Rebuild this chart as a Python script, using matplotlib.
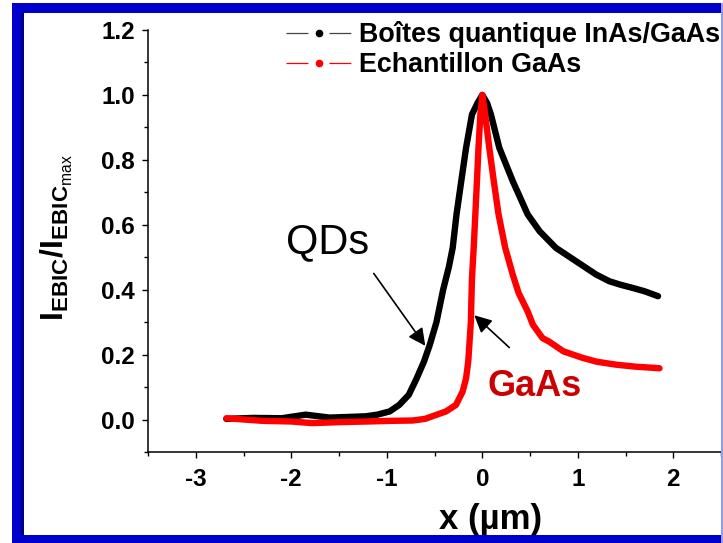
import matplotlib
matplotlib.use("Agg")
import matplotlib.pyplot as plt
from matplotlib.lines import Line2D
from matplotlib.patches import Rectangle
from matplotlib.ticker import MultipleLocator

plt.rcParams['font.family'] = ['Liberation Sans', 'DejaVu Sans']
plt.rcParams['mathtext.fontset'] = 'custom'
plt.rcParams['mathtext.bf'] = 'Liberation Sans:bold'
plt.rcParams['mathtext.rm'] = 'Liberation Sans'
plt.rcParams['lines.scale_dashes'] = False
plt.rcParams['axes.unicode_minus'] = False

# --- données ---
qd_x = [-2.68, -2.4, -2.1, -1.85, -1.6, -1.4, -1.22, -1.1, -0.97, -0.87, -0.77,
        -0.69, -0.61, -0.55, -0.48, -0.41, -0.35, -0.31, -0.27, -0.22, -0.17,
        -0.108, -0.05, 0.0, 0.05, 0.09, 0.178, 0.318, 0.475, 0.60, 0.77, 0.98,
        1.19, 1.33, 1.45, 1.58, 1.7, 1.84]
qd_y = [0.002, 0.005, 0.004, 0.015, 0.006, 0.008, 0.010, 0.015, 0.025, 0.045, 0.076,
        0.125, 0.179, 0.23, 0.30, 0.40, 0.47, 0.529, 0.632, 0.735, 0.837,
        0.94, 0.975, 1.0, 0.975, 0.94, 0.837, 0.735, 0.632, 0.58, 0.529, 0.488,
        0.447, 0.426, 0.415, 0.405, 0.395, 0.38]

gaas_x = [-2.68, -2.3, -2.0, -1.78, -1.5, -1.2, -0.95, -0.73, -0.60, -0.485, -0.38,
          -0.276, -0.206, -0.17, -0.147, -0.12, -0.108, -0.09, -0.073, -0.056,
          -0.04, -0.02, 0.0, 0.03, 0.073, 0.12, 0.17, 0.24, 0.318, 0.38, 0.475,
          0.53, 0.63, 0.70, 0.85, 1.05, 1.2, 1.40, 1.6, 1.855]
gaas_y = [0.004, -0.004, -0.006, -0.011, -0.008, -0.006, -0.004, -0.003, 0.002, 0.014, 0.025,
          0.045, 0.086, 0.127, 0.179, 0.30, 0.436, 0.529, 0.632, 0.735,
          0.837, 0.94, 1.0, 0.94, 0.837, 0.735, 0.632, 0.529, 0.447, 0.39, 0.333,
          0.292, 0.251, 0.24, 0.21, 0.19, 0.178, 0.169, 0.163, 0.158]

labels = ["Boîtes quantique InAs/GaAs", "Echantillon GaAs"]
couleurs = ['black', '#ff0000']

W, H = 723, 543
fig = plt.figure(figsize=(W / 100, H / 100), dpi=100)
ax = fig.add_axes([148 / W, (H - 452) / H, (W - 148) / W, (452 - 30) / H])

ax.plot(qd_x, qd_y, color=couleurs[0], lw=4.6, solid_capstyle='round', solid_joinstyle='round')
ax.plot(gaas_x, gaas_y, color=couleurs[1], lw=4.6, solid_capstyle='round', solid_joinstyle='round')

ax.set_xlim(-3.5, 2.52)
ax.set_ylim(-0.1, 1.2)
ax.spines['top'].set_visible(False)
ax.spines['right'].set_visible(False)
for s in ['left', 'bottom']:
    ax.spines[s].set_linewidth(1.1)

ax.xaxis.set_major_locator(MultipleLocator(1))
ax.xaxis.set_minor_locator(MultipleLocator(0.5))
ax.yaxis.set_minor_locator(MultipleLocator(0.1))
ax.set_yticks([0.0, 0.2, 0.4, 0.6, 0.8, 1.0, 1.2])
ax.set_yticklabels(['0.0', '0.2', '0.4', '0.6', '0.8', '1.0', '1.2'])
ax.tick_params(which='major', direction='out', length=4.5, width=1.0, labelsize=17.5)
ax.tick_params(which='minor', direction='out', length=3, width=1.0)
ax.tick_params(axis='y', which='major', pad=5)
ax.tick_params(axis='x', which='major', pad=7)
for lab in ax.get_xticklabels() + ax.get_yticklabels():
    lab.set_fontweight('bold')

# étiquettes des axes
fig.text(57 / W, 1 - 238 / H,
         r'$\mathbf{I}_{\mathbf{EBIC}}\mathbf{/I}_{\mathbf{EBIC}_{\mathrm{max}}}$',
         rotation=90, ha='center', va='center', fontsize=23)
fig.text(491 / W, 1 - 519 / H, 'x (µm)', ha='center', va='center',
         fontsize=25, fontweight='bold')

# annotations
ax.text(-2.05, 0.512, 'QDs', fontsize=30, va='baseline', ha='left')
ax.annotate('', xy=(-0.58, 0.22), xytext=(-1.153, 0.457),
            arrowprops=dict(arrowstyle='-|>', color='black', lw=1.2, mutation_scale=26))
ax.text(0.05, 0.071, 'GaAs', fontsize=26, fontweight='bold', color='#cc0000',
        va='baseline', ha='left')
ax.annotate('', xy=(-0.105, 0.327), xytext=(0.304, 0.216),
            arrowprops=dict(arrowstyle='-|>', color='black', lw=1.2, mutation_scale=26))

# légende
handles = [Line2D([], [], color=c, lw=0.9, marker='o', ms=4.5, dashes=(15.8, 15.1))
           for c in couleurs]
handles[0].set_color('#444444')
handles[0].set_markerfacecolor('black')
handles[0].set_markeredgecolor('black')
leg = ax.legend(handles, labels, loc='upper left', bbox_to_anchor=(286 / W, 0.9613),
                bbox_transform=fig.transFigure, frameon=False, borderpad=0,
                borderaxespad=0, handlelength=2.42, handletextpad=0.28,
                labelspacing=0.15, numpoints=1, prop={'size': 19.4, 'weight': 'bold'})

# cadre bleu
def cadre(x0, y0, x1, y1, couleur):
    fig.add_artist(Rectangle((x0 / W, 1 - y1 / H), (x1 - x0) / W, (y1 - y0) / H,
                             transform=fig.transFigure, color=couleur, lw=0, zorder=10))

bleu = '#0000cc'
cadre(12, 3, 721, 13, bleu)
cadre(12, 3, 24, 543, bleu)
cadre(21, 13, 24, 535, '#000088')
cadre(12, 535, 723, 543, bleu)
cadre(721, 3, 723, 543, '#9999ee')

fig.savefig("out.png", dpi=100)
plt.close()
